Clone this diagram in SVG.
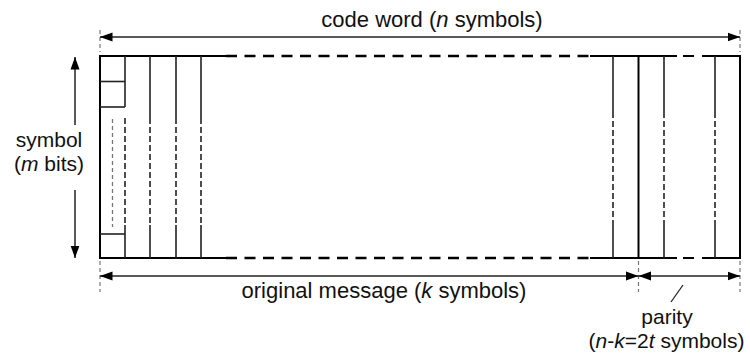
<svg xmlns="http://www.w3.org/2000/svg" width="750" height="354" viewBox="0 0 750 354">
  <style>
    .lbl { font-family: "Liberation Sans", Arial, sans-serif; font-size: 22px; fill: #111; }
    .sm { font-size: 21px; }
    .it { font-style: italic; }
    .edge { stroke: #000; stroke-width: 2; fill: none; }
    .edgeDash { stroke: #000; stroke-width: 2.5; fill: none; stroke-dasharray: 11 7.5; }
    .col { stroke: #222; stroke-width: 1.6; fill: none; }
    .colDash { stroke: #222; stroke-width: 1.6; fill: none; stroke-dasharray: 6 3; }
    .bit { stroke: #777; stroke-width: 1.3; fill: none; stroke-dasharray: 4 3; }
    .ext { stroke: #777; stroke-width: 1.2; fill: none; stroke-dasharray: 4 3; }
    .dim { stroke: #222; stroke-width: 1.5; fill: none; marker-start: url(#head); marker-end: url(#head); }
  </style>
  <defs>
    <marker id="head" markerUnits="userSpaceOnUse" markerWidth="13" markerHeight="10" viewBox="0 0 13 10" refX="12.5" refY="5" orient="auto-start-reverse">
      <path d="M0,0.5 L12.5,5 L0,9.5 z" fill="#000"/>
    </marker>
  </defs>

  <!-- code word frame -->
  <g id="codeword">
    <!-- top edge -->
    <path class="edge" d="M99,56 H226 M590,56 H677 M683,56 H694 M702,56 H741"/>
    <line class="edgeDash" x1="226" y1="56" x2="590" y2="56"/>
    <!-- bottom edge -->
    <path class="edge" d="M99,258 H226 M590,258 H677 M683,258 H694 M702,258 H741"/>
    <line class="edgeDash" x1="226" y1="258" x2="590" y2="258"/>
    <!-- left and right edges -->
    <line class="edge" x1="100" y1="55" x2="100" y2="259"/>
    <line class="edge" x1="740" y1="55" x2="740" y2="259"/>
    <!-- parity boundary -->
    <line class="edge" x1="638.5" y1="56" x2="638.5" y2="258"/>
  </g>

  <!-- first symbol split into bits -->
  <g id="symbol-bits">
    <line class="col" x1="100" y1="81.5" x2="125" y2="81.5"/>
    <line class="col" x1="100" y1="107" x2="125" y2="107"/>
    <line class="col" x1="100" y1="234" x2="125" y2="234"/>
    <line class="col" x1="125" y1="56" x2="125" y2="107"/>
    <line class="bit" x1="112.5" y1="119" x2="112.5" y2="227"/>
  </g>

  <!-- symbol columns -->
  <g id="columns">
    <path class="col" d="M150,56 V118 M176,56 V118 M201,56 V118 M613,56 V112 M664,56 V112 M715,56 V112"/>
    <path class="colDash" d="M125,118 V225 M150,118 V225 M176,118 V225 M201,118 V225 M613,112 V225 M664,112 V225 M715,112 V225"/>
    <path class="col" d="M125,225 V258 M150,225 V258 M176,225 V258 M201,225 V258 M613,225 V258 M664,225 V258 M715,225 V258"/>
  </g>

  <!-- dimension lines -->
  <g id="connectors">
    <path class="ext" d="M100,30 V52 M740,30 V52 M100,261 V292 M638.5,261 V292 M740,261 V292"/>
    <line class="dim" x1="100" y1="37" x2="740" y2="37"/>
    <line class="dim" x1="100" y1="276" x2="638.5" y2="276"/>
    <line class="dim" x1="638.5" y1="276" x2="740" y2="276"/>
    <line stroke="#222" stroke-width="1.5" x1="75" y1="125" x2="75" y2="57" marker-end="url(#head)"/>
    <line stroke="#222" stroke-width="1.5" x1="75" y1="190" x2="75" y2="258" marker-end="url(#head)"/>
    <line stroke="#222" stroke-width="1.3" x1="683" y1="285" x2="671" y2="302"/>
  </g>

  <!-- labels -->
  <g id="labels">
    <text class="lbl" x="432" y="27" text-anchor="middle">code word (<tspan class="it">n</tspan> symbols)</text>
    <text class="lbl" x="384" y="298" text-anchor="middle">original message (<tspan class="it">k</tspan> symbols)</text>
    <text class="lbl sm" x="49" y="147" text-anchor="middle">symbol</text>
    <text class="lbl sm" x="49" y="171" text-anchor="middle">(<tspan class="it">m</tspan> bits)</text>
    <text class="lbl sm" x="667" y="324" text-anchor="middle">parity</text>
    <text class="lbl sm" x="666.5" y="348" text-anchor="middle">(<tspan class="it">n</tspan>-<tspan class="it">k</tspan>=2<tspan class="it">t</tspan> symbols)</text>
  </g>
</svg>
